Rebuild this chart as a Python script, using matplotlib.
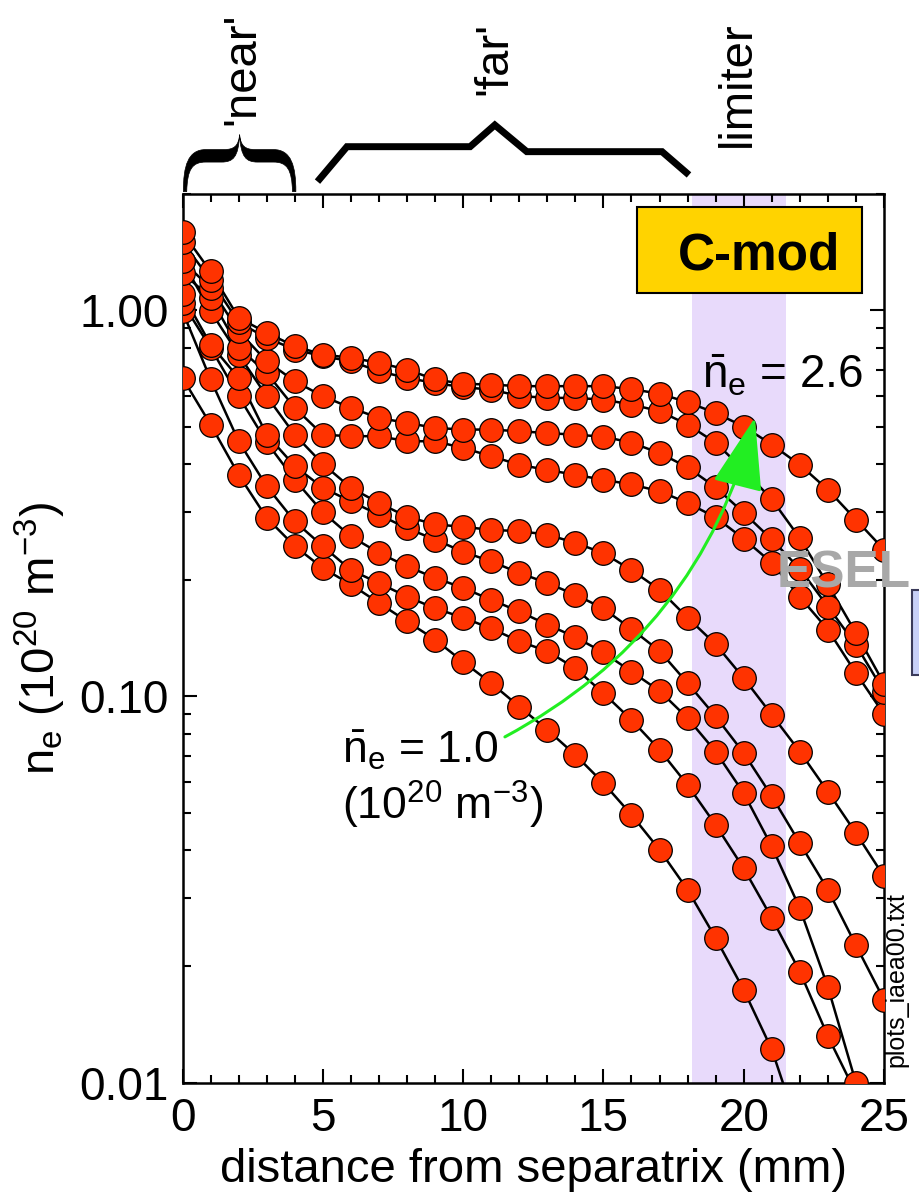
import numpy as np
import matplotlib
matplotlib.use("Agg")
import matplotlib.pyplot as plt
import matplotlib.transforms as mtransforms
from matplotlib.patches import Rectangle, PathPatch, FancyArrowPatch
from matplotlib.path import Path
from matplotlib.ticker import MultipleLocator, LogLocator, NullFormatter

plt.rcParams['font.family'] = ['Liberation Sans', 'DejaVu Sans']
plt.rcParams['mathtext.fontset'] = 'custom'
plt.rcParams['mathtext.rm'] = 'Liberation Sans'
plt.rcParams['mathtext.it'] = 'Liberation Sans:italic'
plt.rcParams['mathtext.bf'] = 'Liberation Sans:bold'

# distance from separatrix (mm), one point per mm
distance = np.arange(0, 26)

# n_e profiles (1e20 m^-3), lowest line-averaged density first
ne_1 = [0.668, 0.506, 0.375, 0.29, 0.245, 0.215, 0.195, 0.1747, 0.1565, 0.1404,
        0.123, 0.1083, 0.0942, 0.082, 0.0706, 0.0597, 0.0494, 0.0401, 0.0316, 0.0237,
        0.0174, 0.0122, 0.0074]
ne_2 = [0.994, 0.662, 0.458, 0.35, 0.284, 0.245, 0.2125, 0.1966, 0.1814, 0.1692,
        0.16, 0.15, 0.139, 0.131, 0.1183, 0.102, 0.087, 0.0728, 0.059, 0.0465,
        0.0359, 0.0267, 0.0194, 0.0132, 0.0094]
ne_3 = [1.045, 0.80, 0.599, 0.455, 0.364, 0.30, 0.2596, 0.2355, 0.2172, 0.2029,
        0.191, 0.178, 0.166, 0.1535, 0.1425, 0.13, 0.116, 0.1034, 0.0879, 0.072,
        0.0562, 0.0409, 0.0283, 0.0177, 0.0100]
ne_4 = [1.10, 0.815, 0.668, 0.476, 0.395, 0.347, 0.32, 0.2955, 0.2727, 0.2548,
        0.237, 0.2237, 0.209, 0.1966, 0.1835, 0.169, 0.1495, 0.1312, 0.1083, 0.0888,
        0.0714, 0.0552, 0.0417, 0.0316, 0.0227, 0.0164]
ne_5 = [1.34, 0.994, 0.768, 0.599, 0.476, 0.40, 0.347, 0.317, 0.292, 0.279,
        0.275, 0.270, 0.268, 0.2625, 0.25, 0.235, 0.2125, 0.189, 0.16, 0.1365,
        0.1116, 0.0897, 0.072, 0.0567, 0.0443, 0.0342]
ne_6 = [1.25, 1.077, 0.80, 0.688, 0.559, 0.476, 0.472, 0.472, 0.458, 0.458,
        0.44, 0.419, 0.398, 0.386, 0.375, 0.364, 0.354, 0.34, 0.317, 0.291,
        0.256, 0.222, 0.181, 0.149, 0.115, 0.090]
ne_7 = [1.34, 1.143, 0.882, 0.738, 0.655, 0.599, 0.559, 0.526, 0.511, 0.496,
        0.491, 0.491, 0.486, 0.481, 0.476, 0.471, 0.454, 0.427, 0.392, 0.348,
        0.299, 0.255, 0.214, 0.171, 0.136, 0.103]
ne_8 = [1.50, 1.20, 0.93, 0.848, 0.791, 0.76, 0.738, 0.695, 0.668, 0.648,
        0.632, 0.623, 0.60, 0.593, 0.593, 0.587, 0.57, 0.548, 0.506, 0.454,
        0.386, 0.324, 0.257, 0.195, 0.146, 0.108]
ne_9 = [1.59, 1.26, 0.956, 0.874, 0.807, 0.768, 0.753, 0.731, 0.702, 0.662,
        0.645, 0.642, 0.636, 0.636, 0.636, 0.636, 0.625, 0.608, 0.578, 0.542,
        0.50, 0.449, 0.398, 0.343, 0.287, 0.24]
profiles = [ne_1, ne_2, ne_3, ne_4, ne_5, ne_6, ne_7, ne_8, ne_9]

limiter_band = (18.15, 21.5)
ytick_vals = [0.01, 0.1, 1.0]
ytick_labels = ['0.01', '0.10', '1.00']

fig = plt.figure(figsize=(9.19, 12.04), dpi=100)
ax = fig.add_axes([0.1986, 0.1007, 0.7633, 0.7382])

ax.axvspan(*limiter_band, color='#E8DAFB', lw=0, zorder=0)

for ne in profiles:
    ax.plot(distance[:len(ne)], ne, '-', color='k', lw=1.8, zorder=2)
for ne in profiles:
    ax.plot(distance[:len(ne)], ne, 'o', ms=17, mfc='#FF3300', mec='k',
            mew=0.9, zorder=3)

ax.set_yscale('log')
ax.set_xlim(0, 25)
ax.set_ylim(0.01, 2.0)
ax.xaxis.set_major_locator(MultipleLocator(5))
ax.xaxis.set_minor_locator(MultipleLocator(1))
ax.set_yticks(ytick_vals)
ax.set_yticklabels(ytick_labels)
ax.yaxis.set_minor_locator(LogLocator(base=10, subs=np.arange(2, 10)))
ax.yaxis.set_minor_formatter(NullFormatter())
ax.tick_params(which='both', direction='in', top=True, right=True, width=1.5)
ax.tick_params(which='major', length=10, labelsize=33, pad=10)
ax.tick_params(which='minor', length=5.5)
for s in ax.spines.values():
    s.set_linewidth(1.8)

ax.set_xlabel('distance from separatrix (mm)', fontsize=34, labelpad=5)
ax.set_ylabel(r'n$_\mathrm{e}$ (10$^{20}$ m$^{-3}$)', fontsize=34, labelpad=8)

# annotations above the frame: x in mm, y in axes fraction
trans = mtransforms.blended_transform_factory(ax.transData, ax.transAxes)
ax.text(2.12, 1.078, "'near'", rotation=90, ha='center', va='bottom',
        transform=trans, fontsize=34)
ax.text(11.13, 1.111, "'far'", rotation=90, ha='center', va='bottom',
        transform=trans, fontsize=34)
ax.text(19.8, 1.053, "limiter", rotation=90, ha='center', va='bottom',
        transform=trans, fontsize=34)

far_x = [4.81, 5.86, 10.25, 11.13, 12.27, 17.09, 18.05]
far_y = [1.0139, 1.0532, 1.0532, 1.0776, 1.0476, 1.0476, 1.0214]
ax.plot(far_x, far_y, color='k', lw=5, transform=trans, clip_on=False,
        solid_joinstyle='miter', solid_capstyle='butt')

# curly brace for the 'near' region, built in a unit box
def half_brace(flip):
    pts = [(0, 0), (0, 0.45), (0.04, 0.74), (0.2, 0.74), (0.36, 0.74),
           (0.45, 0.74), (0.49, 0.8), (0.5, 1.0), (0.49, 0.6), (0.44, 0.52),
           (0.34, 0.52), (0.2, 0.52), (0.08, 0.52), (0.035, 0.4), (0.03, 0.0),
           (0, 0)]
    if flip:
        pts = [(1 - u, v) for u, v in pts]
    codes = ([Path.MOVETO] + [Path.CURVE4] * 3 + [Path.LINETO] + [Path.CURVE4] * 3
             + [Path.CURVE4] * 3 + [Path.LINETO] + [Path.CURVE4] * 3 + [Path.CLOSEPOLY])
    return Path(pts, codes)

brace_tf = mtransforms.Affine2D().scale(4.01, 0.064).translate(0.03, 1.0026) + trans
for flip in (False, True):
    ax.add_patch(PathPatch(half_brace(flip), fc='k', ec='k', lw=0.5,
                           transform=brace_tf, clip_on=False))

# density labels and arrow
arrow = FancyArrowPatch((11.49, 0.0786), (20.4, 0.527),
                        connectionstyle='arc3,rad=0.22',
                        arrowstyle='-|>,head_length=2.3,head_width=0.8',
                        mutation_scale=20, color='#22EE22', lw=2.2,
                        shrinkA=0, shrinkB=0, zorder=5)
ax.add_patch(arrow)
ax.text(5.67, 0.0672, r'$\bar{\mathrm{n}}_\mathrm{e}$ = 1.0', fontsize=32,
        va='baseline', ha='left', zorder=6)
ax.text(5.67, 0.0479, r'(10$^{20}$ m$^{-3}$)', fontsize=32,
        va='baseline', ha='left', zorder=6)
ax.text(18.5, 0.6257, r'$\bar{\mathrm{n}}_\mathrm{e}$ = 2.6', fontsize=33,
        va='baseline', ha='left', zorder=6)

ax.add_patch(Rectangle((0.6475, 0.889), 0.3215, 0.096, transform=ax.transAxes,
                       fc='#FFD300', ec='k', lw=1.5, zorder=6))
ax.text(0.8218, 0.9145, 'C-mod', transform=ax.transAxes, ha='center',
        va='baseline', fontsize=37, fontweight='bold', zorder=7)

ax.text(21.18, 0.191, 'ESEL', fontsize=37, fontweight='bold', color='#A8A8A8',
        va='baseline', ha='left', zorder=8, clip_on=False)

fig.add_artist(Rectangle((912 / 919, 1 - 675 / 1204), 0.03, 85 / 1204,
                         transform=fig.transFigure, fc='#C8D0F8', ec='#3A3A5A', lw=1.5))
fig.text(896.7 / 919, 1 - 1067 / 1204, 'plots_iaea00.txt', rotation=90,
         ha='center', va='bottom', fontsize=18)

fig.savefig('out.png', dpi=100)
